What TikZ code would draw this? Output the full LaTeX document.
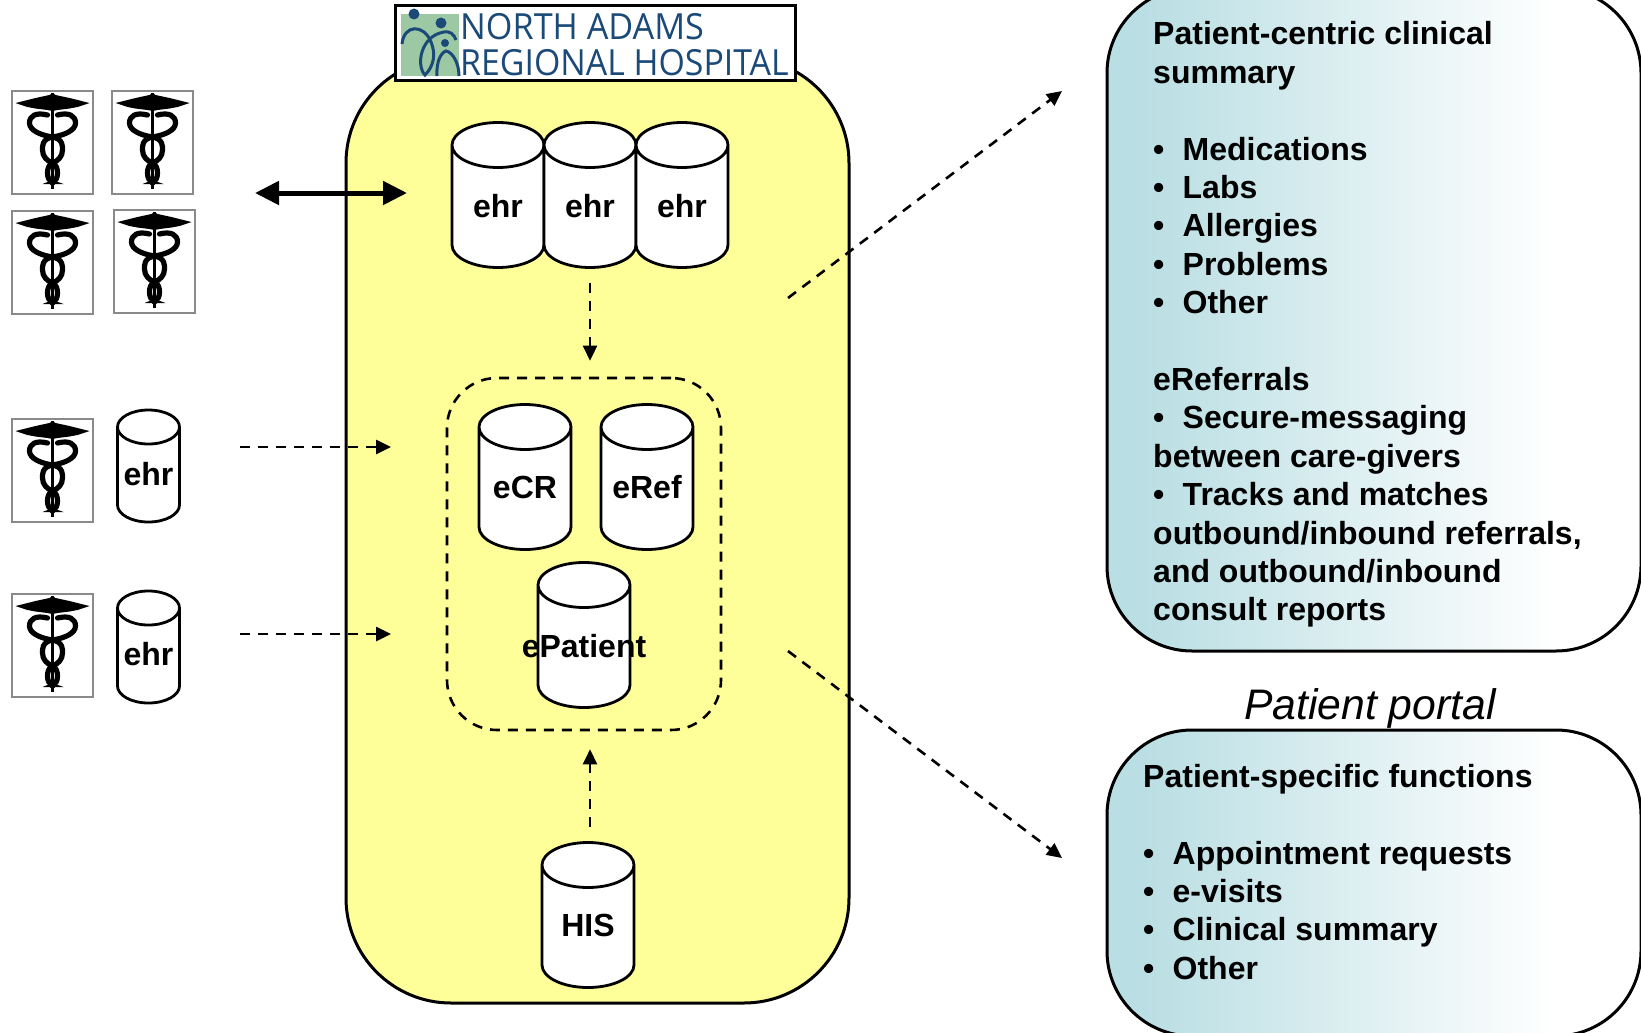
\documentclass[tikz,border=0pt]{standalone}
\usepackage{fontspec}
\setmainfont{Liberation Sans}
\newfontfamily\logofont{Open Sans}
\usetikzlibrary{shapes.geometric,arrows.meta,calc}
\definecolor{hosp}{HTML}{FFFF99}
\definecolor{teal}{HTML}{B9DEE3}
\definecolor{logoblue}{HTML}{1B4A78}
\definecolor{logogreen}{HTML}{9CC8A4}
\definecolor{framegray}{HTML}{8A8A8A}
\pgfdeclarehorizontalshading{bubbleshade}{100bp}{color(0bp)=(teal); color(28bp)=(teal); color(67bp)=(white); color(100bp)=(white)}
\tikzset{
  x=1pt,y=-1pt,
  cylline/.style={draw=black,fill=white,line width=2.8pt},
  cyltext/.style={inner sep=0pt,font=\fontsize{32}{38}\selectfont\bfseries},
  dasharrow/.style={draw=black,line width=2.6pt,dash pattern=on 10pt off 8pt,-{Triangle[length=15pt,width=14pt]}},
  bubble/.style={draw=black,line width=3pt,shading=bubbleshade,rounded corners=85pt},
  bubbletext/.style={anchor=north west,inner sep=0pt,align=left,font=\fontsize{32}{38.4}\selectfont\bfseries},
  frame/.style={draw=framegray,line width=2pt,fill=white,minimum width=81pt,minimum height=103pt,inner sep=0pt,anchor=north west},
  snake/.style={draw=black,line width=5.2pt,line cap=round},
  caduceus/.pic={
    \fill[black] (41,3) -- (38,5) -- (24,8) -- (4,13) -- (16,17) -- (24,18.5) -- (36,20) -- (41,21) -- (46,20) -- (58,18.5) -- (66,17) -- (78,13) -- (58,8) -- (44,5) -- cycle;
    \fill[black] (39.4,3) rectangle (42.6,99);
    \fill[black] (31,94) -- (41,90) -- (52,94) -- cycle;
    \draw[snake] (36,25) .. controls (24,22) and (18,26) .. (18,33) .. controls (18,40) and (28,45) .. (41,47) .. controls (52,49) and (51,57) .. (51,60) .. controls (51,67) and (46,71) .. (41,73) .. controls (37,75) and (36,79) .. (36,83) .. controls (36,88) and (38,91) .. (41,93);
    \draw[snake] (46,25) .. controls (58,22) and (64,26) .. (64,33) .. controls (64,40) and (54,45) .. (41,47) .. controls (30,49) and (31,57) .. (31,60) .. controls (31,67) and (36,71) .. (41,73) .. controls (45,75) and (46,79) .. (46,83) .. controls (46,88) and (44,91) .. (41,93);
  },
}
\newcommand{\bul}{\makebox[29.5pt][l]{\hspace{0pt}•}}
% name, centre, half width, body height between the cap centres, cap radius
\newcommand{\dbcyl}[5]{%
  \node[inner sep=0pt,outer sep=0pt,minimum width=#3*2pt,minimum height=#4pt+#5*2pt] (#1) at #2 {};
  \path[cylline] ([yshift=-#5pt]#1.north west) -- ++(0pt,-#4pt)
    arc[start angle=180,end angle=360,x radius=#3pt,y radius=#5pt] -- ++(0pt,#4pt)
    arc[start angle=0,end angle=180,x radius=#3pt,y radius=#5pt]
    arc[start angle=180,end angle=360,x radius=#3pt,y radius=#5pt];
}
\begin{document}
\begin{tikzpicture}
\useasboundingbox (0,0) rectangle (1641,1033);
\clip (0,0) rectangle (1641,1033);
\fill[white] (0,0) rectangle (1641,1033);

% hospital
\node[draw=black,line width=3pt,fill=hosp,rounded corners=105pt,minimum width=503pt,minimum height=945pt,inner sep=0pt] (hospital) at (597.5,530.5) {};
\node[draw=black,line width=3pt,fill=white,minimum width=400pt,minimum height=75pt,inner sep=0pt] (logo) at (595,43) {};
\fill[logogreen] (401,14) rectangle (459,76);
\fill[logoblue] (414,14) circle (5.5) (441,23) circle (5.5) (445,43) circle (4);
\draw[logoblue,line width=3pt] (402,44) .. controls (404,24) and (424,24) .. (431,42) .. controls (436,54) and (434,66) .. (425,75) .. controls (416,66) and (420,36) .. (444,32) .. controls (450,31) and (454,34) .. (456,40);
\draw[logoblue,line width=3pt] (437,76) .. controls (436,60) and (442,52) .. (446,51) .. controls (452,52) and (459,62) .. (459,76);
\node[anchor=base west,inner sep=0pt,text=logoblue] (logo1) at (460,40) {\logofont\fontsize{36}{36}\selectfont\scalebox{.95}[1]{NORTH ADAMS}};
\node[anchor=base west,inner sep=0pt,text=logoblue] (logo2) at (460,76) {\logofont\fontsize{36}{36}\selectfont\scalebox{.94}[1]{REGIONAL HOSPITAL}};

% ehr group
\dbcyl{ehrA}{(498,195)}{46}{100}{22.5}
\dbcyl{ehrB}{(590,195)}{46}{100}{22.5}
\dbcyl{ehrC}{(682,195)}{46}{100}{22.5}
\node[cyltext] (ehrAt) at (498,206) {ehr};
\node[cyltext] (ehrBt) at (590,206) {ehr};
\node[cyltext] (ehrCt) at (682,206) {ehr};

% dashed group
\node[draw=black,line width=2.6pt,dash pattern=on 10pt off 8pt,rounded corners=50pt,minimum width=274pt,minimum height=352pt,inner sep=0pt] (group) at (584,554) {};
\dbcyl{ecr}{(525,477)}{46}{100}{22.5}
\dbcyl{eref}{(647,477)}{46}{100}{22.5}
\dbcyl{epatient}{(584,635)}{46}{100}{22.5}
\dbcyl{his}{(588,915)}{46}{100}{22.5}
\node[cyltext] (ecrt) at (525,487) {eCR};
\node[cyltext] (ereft) at (647,487) {eRef};
\node[cyltext] (epatientt) at (584,646) {ePatient};
\node[cyltext] (hist) at (588,925) {HIS};

% doctors
\node[frame] (docA) at (11,90) {};
\node[frame] (docB) at (111,90) {};
\node[frame] (docC) at (11,210) {};
\node[frame] (docD) at (113,209) {};
\node[frame] (docE) at (11,417.5) {};
\node[frame] (docF) at (11,593) {};
\pic at (11.5,90) {caduceus};
\pic at (111.5,90) {caduceus};
\pic at (11.5,210) {caduceus};
\pic at (113.5,209) {caduceus};
\pic at (11.5,418) {caduceus};
\pic at (11.5,593) {caduceus};
\dbcyl{ehrD}{(148.5,466)}{31}{78}{17}
\dbcyl{ehrE}{(148.5,647)}{31}{78}{17}
\node[cyltext] (ehrDt) at (148.5,474) {ehr};
\node[cyltext] (ehrEt) at (148.5,654) {ehr};

% bubbles
\path[bubble] (1107,-12) rectangle (1641,651);
\path[bubble] (1107,730) rectangle (1641,1036);
\node[bubbletext] (text1) at (1153,21.5) {Patient-centric clinical\\summary\\[38.4pt]%
\bul Medications\\
\bul Labs\\
\bul Allergies\\
\bul Problems\\
\bul Other\\[38.4pt]%
eReferrals\\
\bul Secure-messaging\\
between care-givers\\
\bul Tracks and matches\\
outbound/inbound referrals,\\
and outbound/inbound\\
consult reports};
\node[font=\fontsize{42.7}{42.7}\selectfont\itshape,inner sep=0pt] (portal) at (1370,708) {Patient portal};
\node[bubbletext] (text2) at (1143,764) {Patient-specific functions\\[38.4pt]%
\bul Appointment requests\\
\bul e-visits\\
\bul Clinical summary\\
\bul Other};

% free ends
\coordinate (docsend) at (255,193);
\coordinate (hospin) at (407,193);
\coordinate (d1) at (240,447);
\coordinate (d1e) at (391,447);
\coordinate (d2) at (240,634);
\coordinate (d2e) at (391,634);
\coordinate (ne) at (788,298);
\coordinate (nee) at (1062,91);
\coordinate (se) at (788,651);
\coordinate (see) at (1062,858);

% connectors
\draw[line width=5pt,{Triangle[length=24pt,width=23pt]}-{Triangle[length=24pt,width=23pt]}] (docsend) -- (hospin);
\draw[dasharrow] ([yshift=-15pt]ehrB.south) -- ([yshift=16pt]ehrB.south |- group.north);
\draw[dasharrow] ([yshift=16pt]ehrB.south |- his.north) -- ([yshift=-18pt]ehrB.south |- group.south);
\draw[dasharrow] (d1) -- (d1e);
\draw[dasharrow] (d2) -- (d2e);
\draw[dasharrow] (ne) -- (nee);
\draw[dasharrow] (se) -- (see);
\end{tikzpicture}
\end{document}
